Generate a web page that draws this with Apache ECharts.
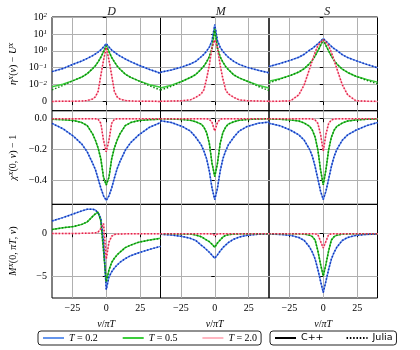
<!DOCTYPE html>
<html>
<head>
<meta charset="utf-8">
<script src="https://cdn.jsdelivr.net/npm/echarts@6/dist/echarts.min.js"></script>
<style>
html, body { margin: 0; padding: 0; background: #fff; }
#chart { width: 420px; height: 350px; }
</style>
</head>
<body>
<div id="chart"></div>
<script>
// frequency grid nu/piT shared by all curves
const nu = [-40, -32, -24, -18, -14, -10, -8, -6, -4, -2, 0, 2, 4, 6, 8, 10, 14, 18, 24, 32, 40];

const temps = ['T = 0.2', 'T = 0.5', 'T = 2.0'];
const columns = ['D', 'M', 'S'];
const xTicks = [-25, 0, 25];
const etaTicks = [0, 1, 2, 3, 4, 5];   // symlog positions of 0, 1e-2, 1e-1, 1e0, 1e1, 1e2
const chiTicks = [-0.4, -0.2, 0];
const mTicks = [-5, 0];

// eta^X(nu) - U^X  (symlog axis)
const etaD02 = [0.059, 0.089, 0.166, 0.251, 0.355, 0.525, 0.66, 0.85, 1.15, 1.66, 2.63, 1.66, 1.12, 0.83, 0.63, 0.5, 0.33, 0.229, 0.141, 0.079, 0.047];
const etaD05 = [0.0087, 0.0105, 0.0178, 0.0282, 0.0447, 0.089, 0.132, 0.224, 0.417, 0.89, 2.0, 0.89, 0.41, 0.22, 0.128, 0.085, 0.042, 0.027, 0.0168, 0.01, 0.0085];
const etaD20 = [0.0001, 0.00015, 0.0002, 0.0003, 0.0006, 0.0015, 0.0028, 0.006, 0.0355, 0.28, 1.58, 0.28, 0.0355, 0.006, 0.0028, 0.0015, 0.0006, 0.0003, 0.0002, 0.00015, 0.0001];
const etaM02 = [0.054, 0.074, 0.112, 0.166, 0.24, 0.447, 0.63, 0.955, 1.66, 3.98, 35.5, 3.98, 1.6, 0.93, 0.6, 0.417, 0.24, 0.158, 0.105, 0.071, 0.05];
const etaM05 = [0.008, 0.0097, 0.0158, 0.0263, 0.0398, 0.083, 0.126, 0.224, 0.447, 1.41, 20, 1.41, 0.447, 0.214, 0.12, 0.079, 0.038, 0.025, 0.0158, 0.0097, 0.008];
const etaM20 = [0.0002, 0.0003, 0.0005, 0.001, 0.0025, 0.0045, 0.007, 0.0224, 0.141, 1.58, 4.47, 1.58, 0.141, 0.0224, 0.007, 0.0045, 0.0025, 0.001, 0.0005, 0.0003, 0.0002];
const etaS02 = [0.117, 0.178, 0.282, 0.417, 0.63, 1.12, 1.41, 1.9, 2.63, 3.72, 5.25, 3.72, 2.6, 1.85, 1.35, 1.05, 0.6, 0.4, 0.263, 0.158, 0.1];
const etaS05 = [0.0158, 0.0224, 0.0355, 0.056, 0.089, 0.178, 0.282, 0.5, 1.0, 2.09, 4.47, 2.05, 0.98, 0.48, 0.27, 0.166, 0.083, 0.0525, 0.0316, 0.02, 0.0141];
const etaS20 = [0.0001, 0.0002, 0.0005, 0.004, 0.01, 0.089, 0.282, 0.794, 2.0, 3.16, 4.47, 3.16, 2.0, 0.794, 0.282, 0.089, 0.01, 0.004, 0.0005, 0.0002, 0.0001];
// Julia T=0.5 tails sit a bit lower than C++
const etaD05j = [0.0069, 0.0095, 0.0178, 0.0282, 0.0447, 0.089, 0.132, 0.224, 0.417, 0.89, 2.0, 0.89, 0.41, 0.22, 0.128, 0.085, 0.042, 0.027, 0.0168, 0.0093, 0.0068];
const etaM05j = [0.0068, 0.009, 0.0158, 0.0263, 0.0398, 0.083, 0.126, 0.224, 0.447, 1.41, 20, 1.41, 0.447, 0.214, 0.12, 0.079, 0.038, 0.025, 0.0158, 0.009, 0.0065];
const etaS05j = [0.0126, 0.021, 0.0355, 0.056, 0.089, 0.178, 0.282, 0.5, 1.0, 2.09, 4.47, 2.05, 0.98, 0.48, 0.27, 0.166, 0.083, 0.0525, 0.0316, 0.018, 0.0112];

// chi^X(0, nu) - 1
const chiD02 = [-0.03, -0.065, -0.115, -0.165, -0.215, -0.29, -0.33, -0.39, -0.45, -0.5, -0.53, -0.5, -0.45, -0.385, -0.325, -0.28, -0.205, -0.155, -0.105, -0.055, -0.025];
const chiD05 = [-0.003, -0.006, -0.012, -0.025, -0.045, -0.1, -0.14, -0.19, -0.26, -0.38, -0.43, -0.38, -0.26, -0.19, -0.14, -0.1, -0.045, -0.025, -0.012, -0.006, -0.003];
const chiD20 = [0, 0, 0, 0, 0, 0, -0.001, -0.003, -0.03, -0.14, -0.215, -0.14, -0.03, -0.003, -0.001, 0, 0, 0, 0, 0, 0];
const chiM02 = [-0.013, -0.025, -0.05, -0.08, -0.12, -0.17, -0.21, -0.26, -0.34, -0.45, -0.525, -0.45, -0.34, -0.26, -0.21, -0.17, -0.12, -0.08, -0.05, -0.03, -0.022];
const chiM05 = [0, -0.002, -0.005, -0.01, -0.02, -0.035, -0.055, -0.09, -0.16, -0.29, -0.375, -0.29, -0.16, -0.09, -0.055, -0.035, -0.02, -0.01, -0.005, -0.002, 0];
const chiM20 = [0, 0, 0, 0, 0, 0, 0, 0, -0.003, -0.025, -0.08, -0.025, -0.003, 0, 0, 0, 0, 0, 0, 0, 0];
const chiS02 = [-0.03, -0.045, -0.075, -0.105, -0.14, -0.2, -0.245, -0.31, -0.39, -0.47, -0.525, -0.47, -0.39, -0.31, -0.245, -0.2, -0.14, -0.105, -0.075, -0.045, -0.025];
const chiS05 = [-0.002, -0.004, -0.008, -0.015, -0.028, -0.05, -0.075, -0.12, -0.2, -0.33, -0.43, -0.33, -0.2, -0.12, -0.075, -0.05, -0.028, -0.015, -0.008, -0.004, -0.002];
const chiS20 = [0, 0, 0, 0, 0, 0, -0.002, -0.008, -0.03, -0.1, -0.21, -0.1, -0.03, -0.008, -0.002, 0, 0, 0, 0, 0, 0];

// M^X(0, piT, nu)
const mD02 = [1.5, 1.9, 2.35, 2.7, 2.88, 2.9, 2.8, 2.45, 1.8, -1.0, -6.6, -5.1, -4.5, -4.05, -3.7, -3.4, -2.95, -2.6, -2.25, -1.85, -1.5];
const mD05 = [0.5, 0.7, 0.85, 1.1, 1.4, 2.05, 2.35, 2.55, 1.5, -2.0, -5.7, -4.3, -3.4, -2.9, -2.5, -2.2, -1.65, -1.35, -1.0, -0.75, -0.55];
const mD20 = [0.02, 0.02, 0.03, 0.04, 0.05, 0.08, 0.1, 0.2, 0.6, 1.2, -3.0, -1.0, -0.3, -0.1, -0.05, -0.03, -0.02, -0.01, 0, 0, 0];
const mM02 = [-0.06, -0.15, -0.32, -0.55, -0.8, -1.35, -1.6, -1.9, -2.2, -2.55, -2.9, -2.5, -2.05, -1.65, -1.35, -1.05, -0.65, -0.4, -0.18, -0.07, -0.03];
const mM05 = [-0.01, -0.02, -0.03, -0.05, -0.15, -0.35, -0.55, -0.75, -0.95, -1.25, -1.6, -1.1, -0.75, -0.4, -0.2, -0.12, -0.05, -0.02, -0.01, 0, 0];
const mM20 = [0, 0, 0, 0, 0, 0, 0, 0, -0.01, -0.04, -0.15, -0.04, -0.01, 0, 0, 0, 0, 0, 0, 0, 0];
const mS02 = [-0.04, -0.08, -0.2, -0.45, -0.8, -1.6, -2.2, -3.0, -4.2, -5.6, -6.95, -5.6, -4.2, -3.0, -2.2, -1.6, -0.8, -0.45, -0.2, -0.08, -0.04];
const mS05 = [0, 0, -0.01, -0.02, -0.05, -0.17, -0.35, -0.75, -2.0, -3.6, -5.0, -3.6, -2.0, -0.75, -0.35, -0.17, -0.05, -0.02, -0.01, 0, 0];
const mS20 = [0, 0, 0, 0, 0, 0, 0, -0.02, -0.1, -0.9, -1.7, -0.9, -0.1, -0.02, 0, 0, 0, 0, 0, 0, 0];

const cppPanels = [
  [[etaD02, etaD05, etaD20], [etaM02, etaM05, etaM20], [etaS02, etaS05, etaS20]],
  [[chiD02, chiD05, chiD20], [chiM02, chiM05, chiM20], [chiS02, chiS05, chiS20]],
  [[mD02, mD05, mD20], [mM02, mM05, mM20], [mS02, mS05, mS20]]
];
const juliaPanels = [
  [[etaD02, etaD05j, etaD20], [etaM02, etaM05j, etaM20], [etaS02, etaS05j, etaS20]],
  cppPanels[1],
  cppPanels[2]
];

const solidColors = ['#6495ed', '#3ccd3c', '#ffb6c1'];
const dotColors = ['#1533b8', '#0a860a', '#e0204a'];
const serif = 'Liberation Serif';

// symlog with linear threshold 1e-2
function symlog(v) {
  const a = Math.abs(v);
  const t = a <= 0.01 ? a / 0.01 : 1 + Math.log10(a / 0.01);
  return v < 0 ? -t : t;
}
function minus(v) { return v < 0 ? '−' + (-v) : '' + v; }

const colLeft = [52, 160.5, 269];
const colWidth = 108.5;
const rowTop = [17, 110.7, 204.3];
const rowHeight = 93.7;
const yRange = [[-0.54, 5], [-0.556, 0.052], [-7.6, 3.475]];
const yTicks = [etaTicks, chiTicks, mTicks];
const yNames = [
  '{i|η}{s|X}{r|(}{i|ν}{r|) − }{i|U}{s|X}',
  '{i|χ}{s|X}{r|(0, }{i|ν}{r|) − 1}',
  '{i|M}{s|X}{r|(0, }{i|πT}{r|, }{i|ν}{r|)}'
];
const richText = {
  i: { fontFamily: serif, fontStyle: 'italic', fontSize: 10, color: '#000' },
  r: { fontFamily: serif, fontSize: 10, color: '#000' },
  s: { fontFamily: serif, fontStyle: 'italic', fontSize: 7, color: '#000', verticalAlign: 'top' },
  b: { fontFamily: serif, fontSize: 10, color: '#000' }
};

const grids = [], xAxes = [], yAxes = [], series = [];
for (let r = 0; r < 3; r++) {
  for (let c = 0; c < 3; c++) {
    const gi = r * 3 + c;
    grids.push({
      left: colLeft[c], top: rowTop[r], width: colWidth, height: rowHeight,
      show: true, borderColor: '#000', borderWidth: 1, backgroundColor: 'transparent',
      containLabel: false, outerBoundsMode: 'none'
    });
    xAxes.push({
      type: 'value', gridIndex: gi, min: -40, max: 40,
      axisLine: { show: false },
      axisTick: { show: true, length: 3.5, customValues: xTicks, lineStyle: { color: '#000' } },
      axisLabel: {
        show: r === 2, customValues: xTicks, margin: 5,
        fontFamily: serif, fontSize: 10, color: '#000', formatter: minus
      },
      splitLine: { show: true, lineStyle: { color: '#b0b0b0', width: 1 } },
      name: r === 2 ? '{i|ν}{r|/}{i|πT}' : '',
      nameLocation: 'middle', nameGap: 21,
      nameTextStyle: { rich: richText }
    });
    yAxes.push({
      type: 'value', gridIndex: gi, min: yRange[r][0], max: yRange[r][1],
      axisLine: { show: false },
      axisTick: { show: true, length: 3.5, customValues: yTicks[r], lineStyle: { color: '#000' } },
      axisLabel: {
        show: c === 0, customValues: yTicks[r], margin: 5,
        fontFamily: serif, fontSize: 10, color: '#000',
        rich: richText,
        formatter: r === 0
          ? function (v) { return v === 0 ? '0' : '{b|10}{s|' + minus(Math.round(v) - 3) + '}'; }
          : r === 1 ? function (v) { return minus(Number(v.toFixed(1))).replace(/^(−?\d)$/, '$1.0'); }
          : minus
      },
      splitLine: { show: true, lineStyle: { color: '#b0b0b0', width: 1 } },
      name: c === 0 ? yNames[r] : '',
      nameLocation: 'middle', nameGap: 34,
      nameTextStyle: { rich: richText }
    });
    for (let k = 0; k < 3; k++) {
      const tf = r === 0 ? symlog : (v => v);
      series.push({
        type: 'line', name: temps[k], xAxisIndex: gi, yAxisIndex: gi,
        data: nu.map((x, i) => [x, tf(cppPanels[r][c][k][i])]),
        symbol: 'none', silent: true, z: 2,
        lineStyle: { color: solidColors[k], width: 1.5 },
        itemStyle: { color: solidColors[k] }
      });
    }
    for (let k = 0; k < 3; k++) {
      const tf = r === 0 ? symlog : (v => v);
      series.push({
        type: 'line', name: temps[k] + ' Julia', xAxisIndex: gi, yAxisIndex: gi,
        data: nu.map((x, i) => [x, tf(juliaPanels[r][c][k][i])]),
        symbol: 'none', silent: true, z: 3,
        lineStyle: { color: dotColors[k], width: 1.5, type: [1.5, 1.8] },
        itemStyle: { color: dotColors[k] }
      });
    }
  }
}
// entries for the implementation legend
series.push({ type: 'line', name: 'C++', xAxisIndex: 0, yAxisIndex: 0, data: [], symbol: 'none',
  lineStyle: { color: '#000', width: 1.5 }, itemStyle: { color: '#000' } });
series.push({ type: 'line', name: 'Julia', xAxisIndex: 0, yAxisIndex: 0, data: [], symbol: 'none',
  lineStyle: { color: '#000', width: 1.5, type: [1.5, 1.8] }, itemStyle: { color: '#000' } });

const titles = columns.map((t, c) => ({
  text: t, left: colLeft[c] + colWidth / 2 - 4, top: 1,
  textStyle: { fontFamily: serif, fontStyle: 'italic', fontWeight: 'normal', fontSize: 12, color: '#222' }
}));

// line-only legend marks (hide the default symbol)
const legendMark = { opacity: 0, borderWidth: 0 };

const chart = echarts.init(document.getElementById('chart'), null, { renderer: 'canvas' });
chart.setOption({
  animation: false,
  backgroundColor: '#fff',
  title: titles,
  grid: grids,
  xAxis: xAxes,
  yAxis: yAxes,
  legend: [
    {
      data: temps, left: 38, top: 331, itemWidth: 21, itemHeight: 12, itemGap: 24,
      padding: [2, 4], borderColor: '#222', borderWidth: 1, borderRadius: 3,
      selectedMode: false, itemStyle: legendMark,
      formatter: name => name.replace('T', '{i|T}'),
      textStyle: { fontFamily: serif, fontSize: 10, color: '#000', rich: richText }
    },
    {
      data: ['C++', 'Julia'], left: 270, top: 331, itemWidth: 21, itemHeight: 12, itemGap: 22,
      padding: [2, 4], borderColor: '#222', borderWidth: 1, borderRadius: 3,
      selectedMode: false, itemStyle: legendMark,
      textStyle: { fontFamily: 'DejaVu Sans', fontSize: 9.5, color: '#000' }
    }
  ],
  series: series
});
</script>
</body>
</html>
